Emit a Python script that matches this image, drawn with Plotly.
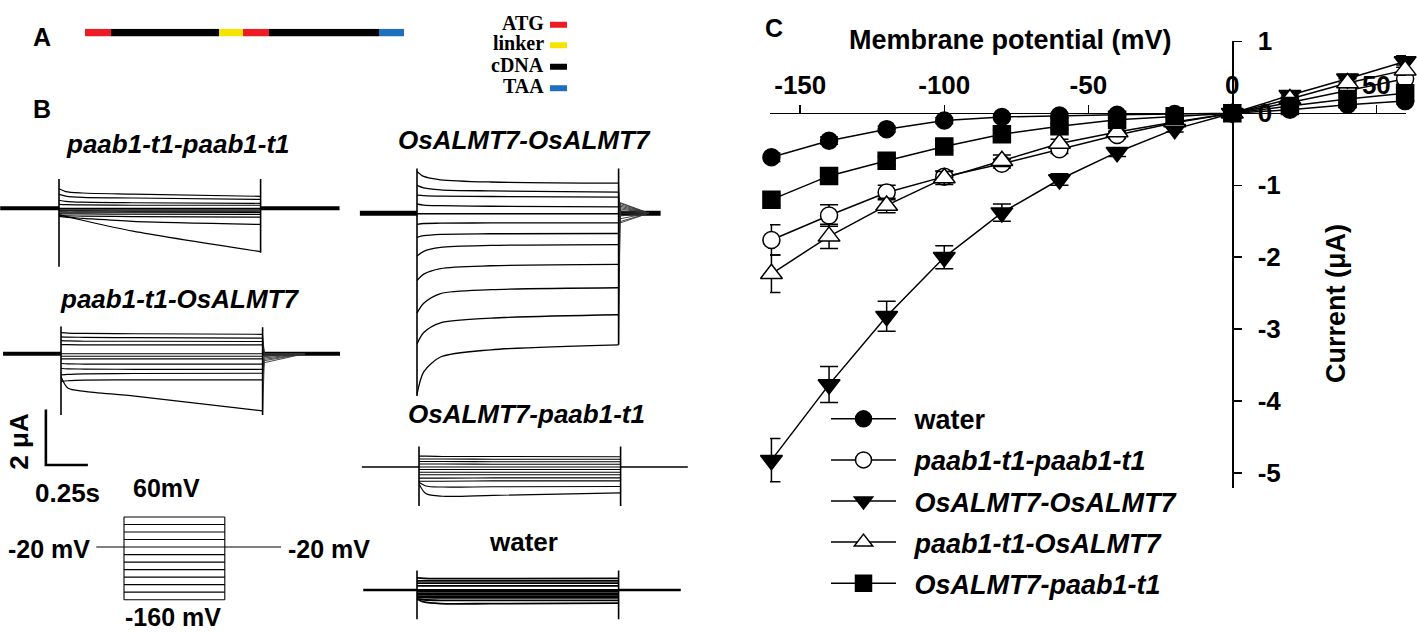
import numpy as np
import plotly.graph_objects as go

W, H = 1417, 632
FONT = "Liberation Sans, Arial, sans-serif"

# ---------------- Panel C : I-V data ----------------
V_MV = [-160, -140, -120, -100, -80, -60, -40, -20, 0, 20, 40, 60]
I_WATER = [-0.61, -0.38, -0.22, -0.10, -0.05, -0.03, -0.02, -0.01, 0.0, 0.05, 0.12, 0.17]
E_WATER = [0.06, 0.05, 0.04, 0.04, 0.03, 0.03, 0.03, 0.02, 0.02, 0.03, 0.04, 0.04]
I_PP = [-1.76, -1.42, -1.10, -0.88, -0.70, -0.50, -0.30, -0.13, 0.0, 0.15, 0.32, 0.48]
E_PP = [0.21, 0.15, 0.10, 0.08, 0.06, 0.06, 0.05, 0.04, 0.02, 0.04, 0.05, 0.06]
I_OO = [-4.82, -3.77, -2.82, -2.00, -1.38, -0.92, -0.54, -0.22, 0.0, 0.25, 0.48, 0.72]
E_OO = [0.30, 0.25, 0.21, 0.16, 0.12, 0.08, 0.06, 0.04, 0.02, 0.04, 0.06, 0.08]
I_PO = [-2.23, -1.71, -1.28, -0.90, -0.66, -0.42, -0.26, -0.12, 0.0, 0.20, 0.42, 0.60]
E_PO = [0.26, 0.17, 0.10, 0.09, 0.08, 0.06, 0.05, 0.04, 0.02, 0.04, 0.06, 0.07]
I_OP = [-1.20, -0.87, -0.66, -0.46, -0.29, -0.18, -0.09, -0.04, 0.0, 0.10, 0.20, 0.28]
E_OP = [0.08, 0.06, 0.06, 0.05, 0.05, 0.04, 0.04, 0.03, 0.02, 0.03, 0.04, 0.05]
X_TICKS = [-150, -100, -50, 0, 50]
X_TICK_TEXT = ["-150", "-100", "-50", "0", "50"]
Y_TICKS = [1, 0, -1, -2, -3, -4, -5]
Y_TICK_TEXT = ["1", "0", "-1", "-2", "-3", "-4", "-5"]

# ---------------- Panel A : construct ----------------
SEG_NAMES = ["ATG", "cDNA", "linker", "ATG", "cDNA", "TAA"]
SEG_LEN = [26, 108, 24, 26, 110, 25]
KEY_NAMES = ["ATG", "linker", "cDNA", "TAA"]
KEY_COLORS = {"ATG": "#ec1c24", "linker": "#f5e400", "cDNA": "#000000", "TAA": "#1f6fbf"}

# ---------------- Panel B : current traces (uA) ----------------
SWEEP_MV = [60, 40, 20, 0, -20, -40, -60, -80, -100, -120, -140, -160]
PULSE_S = 1.2
SAMPLE_T = [0.0, 0.04, 0.14, 0.44, 1.2]

P1_I = [[0.70, 0.60, 0.55, 0.51, 0.43], [0.50, 0.44, 0.39, 0.37, 0.32],
        [0.29, 0.25, 0.22, 0.20, 0.18], [0.14, 0.13, 0.12, 0.11, 0.11],
        [0.0, 0.0, 0.0, 0.0, 0.0], [-0.06, -0.06, -0.06, -0.06, -0.06],
        [-0.09, -0.09, -0.09, -0.10, -0.10], [-0.13, -0.14, -0.14, -0.14, -0.15],
        [-0.19, -0.20, -0.20, -0.21, -0.22], [-0.26, -0.27, -0.28, -0.30, -0.32],
        [-0.29, -0.32, -0.36, -0.47, -0.58], [-0.23, -0.29, -0.43, -0.82, -1.56]]
P1_SPIKE_ON = [1.05, -2.1]
P1_SPIKE_OFF = [1.05, -1.6]

P2_I = [[0.76, 0.74, 0.73, 0.72, 0.70], [0.61, 0.60, 0.59, 0.58, 0.56],
        [0.47, 0.46, 0.45, 0.45, 0.44], [0.33, 0.33, 0.32, 0.32, 0.32],
        [0.0, 0.0, 0.0, 0.0, 0.0], [-0.09, -0.09, -0.09, -0.09, -0.09],
        [-0.18, -0.18, -0.18, -0.18, -0.18], [-0.35, -0.36, -0.37, -0.37, -0.37],
        [-0.53, -0.54, -0.55, -0.56, -0.56], [-0.76, -0.74, -0.72, -0.71, -0.70],
        [-0.99, -0.97, -0.95, -0.94, -0.94], [-0.82, -1.23, -1.35, -1.52, -2.05]]
P2_SPIKE_ON = [0.98, -2.2]
P2_SPIKE_OFF = [0.95, -2.2]
P2_TAIL = [0.0, 0.0, 0.0, 0.0, 0.0, -0.05, -0.08, -0.1, -0.15, -0.2, -0.25, -0.32]

P3_I = [[1.50, 1.32, 1.20, 1.12, 1.08], [1.00, 0.91, 0.84, 0.80, 0.76],
        [0.65, 0.63, 0.61, 0.60, 0.58], [0.33, 0.29, 0.27, 0.25, 0.23],
        [-0.02, -0.02, -0.02, -0.02, -0.02], [-0.40, -0.37, -0.36, -0.35, -0.35],
        [-0.87, -0.81, -0.76, -0.74, -0.73], [-1.54, -1.37, -1.23, -1.16, -1.13],
        [-2.42, -2.19, -1.99, -1.89, -1.84], [-3.59, -3.24, -2.89, -2.75, -2.68],
        [-4.70, -4.29, -3.94, -3.77, -3.65], [-6.51, -5.70, -5.17, -4.91, -4.73]]
P3_SPIKE_ON = [1.61, -6.57]
P3_SPIKE_OFF = [1.61, -4.73]
P3_TAIL = [-0.35, -0.30, -0.20, -0.10, 0.0, 0.08, 0.15, 0.20, 0.25, 0.30, 0.35, 0.38]

P4_I = [[0.39, 0.39, 0.38, 0.38, 0.37], [0.29, 0.29, 0.29, 0.28, 0.28],
        [0.20, 0.20, 0.20, 0.19, 0.19], [0.11, 0.11, 0.11, 0.10, 0.10],
        [0.0, 0.0, 0.0, 0.0, 0.0], [-0.09, -0.09, -0.09, -0.09, -0.09],
        [-0.19, -0.19, -0.19, -0.19, -0.19], [-0.28, -0.28, -0.28, -0.28, -0.28],
        [-0.40, -0.40, -0.40, -0.39, -0.39], [-0.51, -0.51, -0.51, -0.50, -0.50],
        [-0.55, -0.68, -0.72, -0.71, -0.70], [-0.60, -0.95, -1.05, -1.02, -0.93]]
P4_SPIKE_ON = [0.74, -1.40]
P4_SPIKE_OFF = [0.74, -1.40]

P5_I = [[0.44, 0.42, 0.41, 0.41, 0.42], [0.33, 0.33, 0.33, 0.33, 0.33],
        [0.25, 0.25, 0.25, 0.25, 0.25], [0.15, 0.15, 0.15, 0.15, 0.15],
        [0.0, 0.0, 0.0, 0.0, 0.0], [-0.06, -0.06, -0.06, -0.06, -0.06],
        [-0.12, -0.12, -0.12, -0.12, -0.12], [-0.16, -0.16, -0.16, -0.16, -0.16],
        [-0.22, -0.22, -0.22, -0.22, -0.22], [-0.26, -0.27, -0.28, -0.28, -0.28],
        [-0.32, -0.35, -0.37, -0.37, -0.37], [-0.32, -0.43, -0.49, -0.49, -0.47]]
P5_SPIKE_ON = [0.70, -1.05]
P5_SPIKE_OFF = [0.70, -1.05]

# scale bar
SCALE_T = 0.25   # s
SCALE_I = 2.0    # uA

# voltage protocol
PROTO_MV = [60, 40, 20, 0, -20, -40, -60, -80, -100, -120, -140, -160]
HOLD_MV = -20
PROTO_PRE_S = 0.33
PROTO_POST_S = 0.67

# ---------------- helpers ----------------
PX_PER_S = 168.0
PX_PER_UA = 28.5


def fx(px):
    return px / W


def fy(py):
    return 1 - py / H


layout_axes = {}


def set_axes(n, on_px, base_px, box, pxs, pxu):
    L, R, T, B = box
    xr = [(L - on_px) / pxs, (R - on_px) / pxs]
    yr = [(base_px - B) / pxu, (base_px - T) / pxu]
    layout_axes[f"xaxis{n}"] = dict(domain=[fx(L), fx(R)], range=xr, visible=False,
                                   anchor=f"y{n}", fixedrange=True)
    layout_axes[f"yaxis{n}"] = dict(domain=[fy(B), fy(T)], range=yr, visible=False,
                                   anchor=f"x{n}", fixedrange=True)


fig = go.Figure()

# ---------------- Panel B traces ----------------
PANELS = [
    # n, data, spike_on, spike_off, tail, tail_s, pre_s, post_s, on_px, base_px, box, base_w, sweep_w
    (3, P1_I, P1_SPIKE_ON, P1_SPIKE_OFF, None, 0.0, 0.35, 0.47, 59, 198, (0, 370, 140, 280), 4.0, 1.2),
    (4, P2_I, P2_SPIKE_ON, P2_SPIKE_OFF, P2_TAIL, 0.25, 0.345, 0.50, 61, 347, (0, 370, 290, 480), 4.0, 1.2),
    (5, P3_I, P3_SPIKE_ON, P3_SPIKE_OFF, P3_TAIL, 0.18, 0.34, 0.25, 417, 203, (340, 720, 140, 400), 5.0, 1.3),
    (6, P4_I, P4_SPIKE_ON, P4_SPIKE_OFF, None, 0.0, 0.34, 0.40, 419, 463, (340, 720, 425, 515), 1.6, 1.1),
    (7, P5_I, P5_SPIKE_ON, P5_SPIKE_OFF, None, 0.0, 0.32, 0.37, 417, 589, (340, 720, 555, 632), 2.5, 1.8),
]

for (n, data, son, soff, tail, tail_s, pre_s, post_s, on_px, base_px, box, bw, sw) in PANELS:
    set_axes(n, on_px, base_px, box, PX_PER_S, PX_PER_UA)
    xa, ya = f"x{n}", f"y{n}"
    fig.add_trace(go.Scatter(x=[-pre_s, 0, None, PULSE_S, PULSE_S + post_s], y=[0, 0, None, 0, 0],
                             mode="lines", line=dict(color="black", width=bw),
                             xaxis=xa, yaxis=ya, showlegend=False, hoverinfo="skip"))
    for k, vals in enumerate(data):
        fig.add_trace(go.Scatter(x=SAMPLE_T, y=vals, mode="lines",
                                 line=dict(color="black", width=sw, shape="spline", smoothing=0.8),
                                 xaxis=xa, yaxis=ya, showlegend=False, hoverinfo="skip"))
        if tail is not None:
            fig.add_trace(go.Scatter(x=[PULSE_S, PULSE_S + 0.01, PULSE_S + tail_s],
                                     y=[vals[-1], tail[k], 0], mode="lines",
                                     line=dict(color="#333333", width=0.9),
                                     xaxis=xa, yaxis=ya, showlegend=False, hoverinfo="skip"))
    fig.add_trace(go.Scatter(x=[0, 0, None, PULSE_S, PULSE_S], y=[son[0], son[1], None, soff[0], soff[1]],
                             mode="lines", line=dict(color="black", width=1.6),
                             xaxis=xa, yaxis=ya, showlegend=False, hoverinfo="skip"))

# scale bar (drawn in panel-2 axes, so its length follows that panel's scale)
SB_T0, SB_I0 = -0.09, -4.0
fig.add_trace(go.Scatter(x=[SB_T0, SB_T0, SB_T0 + SCALE_T], y=[SB_I0 + SCALE_I, SB_I0, SB_I0],
                         mode="lines", line=dict(color="black", width=2.6),
                         xaxis="x4", yaxis="y4", showlegend=False, hoverinfo="skip"))

# ---------------- voltage protocol ----------------
PROTO_PX_S = 84.0
PROTO_PX_MV = 0.385
set_axes(8, 124, 545 - (0 - HOLD_MV) * PROTO_PX_MV, (60, 320, 495, 615), PROTO_PX_S, PROTO_PX_MV)
px_, py_ = [], []
for v in PROTO_MV:
    px_ += [0, PULSE_S, None]
    py_ += [v, v, None]
px_ += [0, 0, None, PULSE_S, PULSE_S, None, -PROTO_PRE_S, 0, None, PULSE_S, PULSE_S + PROTO_POST_S]
py_ += [max(PROTO_MV), min(PROTO_MV), None, max(PROTO_MV), min(PROTO_MV), None, HOLD_MV, HOLD_MV, None,
        HOLD_MV, HOLD_MV]
fig.add_trace(go.Scatter(x=px_, y=py_, mode="lines", line=dict(color="black", width=1.1),
                         xaxis="x8", yaxis="y8", showlegend=False, hoverinfo="skip"))

# ---------------- Panel A bar ----------------
bases = np.concatenate([[0], np.cumsum(SEG_LEN)[:-1]])
layout_axes["xaxis2"] = dict(domain=[fx(85), fx(404)], range=[0, sum(SEG_LEN)], visible=False,
                             anchor="y2", fixedrange=True)
layout_axes["yaxis2"] = dict(domain=[fy(22), fy(14)], range=[-0.5, 0.5], visible=False,
                             anchor="x2", fixedrange=True)
fig.add_trace(go.Bar(x=SEG_LEN, base=bases, y=[0] * len(SEG_LEN), orientation="h", width=1,
                     marker=dict(color=[KEY_COLORS[s] for s in SEG_NAMES], line=dict(width=0)),
                     xaxis="x2", yaxis="y2", showlegend=False, hoverinfo="skip"))

# ---------------- Panel C I-V curves ----------------
SERIES = [
    ("water", I_WATER, E_WATER, "circle", "black"),
    ("<i>paab1-t1-paab1-t1</i>", I_PP, E_PP, "circle", "white"),
    ("<i>OsALMT7-OsALMT7</i>", I_OO, E_OO, "triangle-down", "black"),
    ("<i>paab1-t1-OsALMT7</i>", I_PO, E_PO, "triangle-up", "white"),
    ("<i>OsALMT7-paab1-t1</i>", I_OP, E_OP, "square", "black"),
]
for name, vals, errs, sym, fill in SERIES:
    size = 17 if sym in ("circle", "square") else 19
    fig.add_trace(go.Scatter(
        x=V_MV, y=vals, name="\u2002" + name, legendgroup=name, mode="lines+markers",
        line=dict(color="black", width=1.5),
        marker=dict(symbol=sym, size=size, color=fill, line=dict(color="black", width=1.5)),
        error_y=dict(type="data", array=errs, visible=True, color="black", thickness=1.5, width=9),
        cliponaxis=False, xaxis="x", yaxis="y"))

layout_axes["xaxis"] = dict(
    domain=[fx(770), fx(1406)], range=[-160.5, 60.3], anchor="free", position=fy(100),
    side="top", showline=True, linecolor="black", linewidth=1.5, ticks="outside",
    ticklen=8, tickwidth=1.5, tickcolor="black", tickvals=X_TICKS, ticktext=X_TICK_TEXT,
    tickfont=dict(family=FONT, size=26, color="black", weight="bold"),
    showgrid=False, zeroline=False, fixedrange=True)
layout_axes["yaxis"] = dict(
    domain=[fy(484), fy(27)], range=[-5.2, 1.0], anchor="free", position=fx(1232),
    side="right", showline=True, linecolor="black", linewidth=1.5, ticks="outside",
    ticklen=8, tickwidth=1.5, tickcolor="black", tickvals=Y_TICKS, ticktext=Y_TICK_TEXT,
    tickfont=dict(family=FONT, size=26, color="black", weight="bold"), ticklabelstandoff=11,
    showgrid=False, zeroline=False, fixedrange=True)

# ---------------- annotations ----------------
ann = []


def txt(s, x, y, size=26, angle=0, family=FONT, xanchor="center"):
    ann.append(dict(text=s, x=fx(x), y=fy(y), xref="paper", yref="paper", showarrow=False,
                    xanchor=xanchor, yanchor="middle", textangle=angle,
                    font=dict(family=family, size=size, color="black")))


txt("<b>A</b>", 42, 23, 25)
txt("<b>B</b>", 42, 96, 25)
txt("<b>C</b>", 774, 13, 25)
txt("<b><i>paab1-t1-paab1-t1</i></b>", 178, 132)
txt("<b><i>paab1-t1-OsALMT7</i></b>", 179, 291)
txt("<b><i>OsALMT7-OsALMT7</i></b>", 524, 128)
txt("<b><i>OsALMT7-paab1-t1</i></b>", 526, 409)
txt("<b>water</b>", 523, 540)
txt("<b>2 μA</b>", 19, 437, 26, angle=-90)
txt("<b>0.25s</b>", 67, 490)
txt("<b>60mV</b>", 166, 485, 25)
txt("<b>-20 mV</b>", 49, 547, 25)
txt("<b>-20 mV</b>", 329, 547, 25)
txt("<b>-160 mV</b>", 173, 617, 25)
txt("<b>Membrane potential (mV)</b>", 1010, 26, 27)
txt("<b>Current (μA)</b>", 1336, 296, 27, angle=-90)

SERIF = "Liberation Serif, Times New Roman, serif"
KEY_Y = [8, 29, 51, 73]
shapes = []
for name, yk in zip(KEY_NAMES, KEY_Y):
    txt(f"<b>{name}</b>", 546, yk, 20, family=SERIF, xanchor="right")
    shapes.append(dict(type="line", xref="paper", yref="paper", x0=fx(550), x1=fx(567),
                       y0=fy(yk + 2), y1=fy(yk + 2), line=dict(color=KEY_COLORS[name], width=6)))

fig.update_layout(
    width=W, height=H, margin=dict(l=0, r=0, t=0, b=0),
    paper_bgcolor="white", plot_bgcolor="white",
    font=dict(family=FONT, color="black"),
    showlegend=True,
    legend=dict(x=fx(826), y=fy(389), xanchor="left", yanchor="top", bgcolor="rgba(0,0,0,0)",
                font=dict(family=FONT, size=27, color="black", weight="bold"),
                tracegroupgap=3, itemwidth=65, itemsizing="trace"),
    annotations=ann, shapes=shapes,
    **layout_axes,
)

fig.write_html("out.html", config={"displayModeBar": False, "staticPlot": True},
               post_script="document.body.style.margin='0px';")
